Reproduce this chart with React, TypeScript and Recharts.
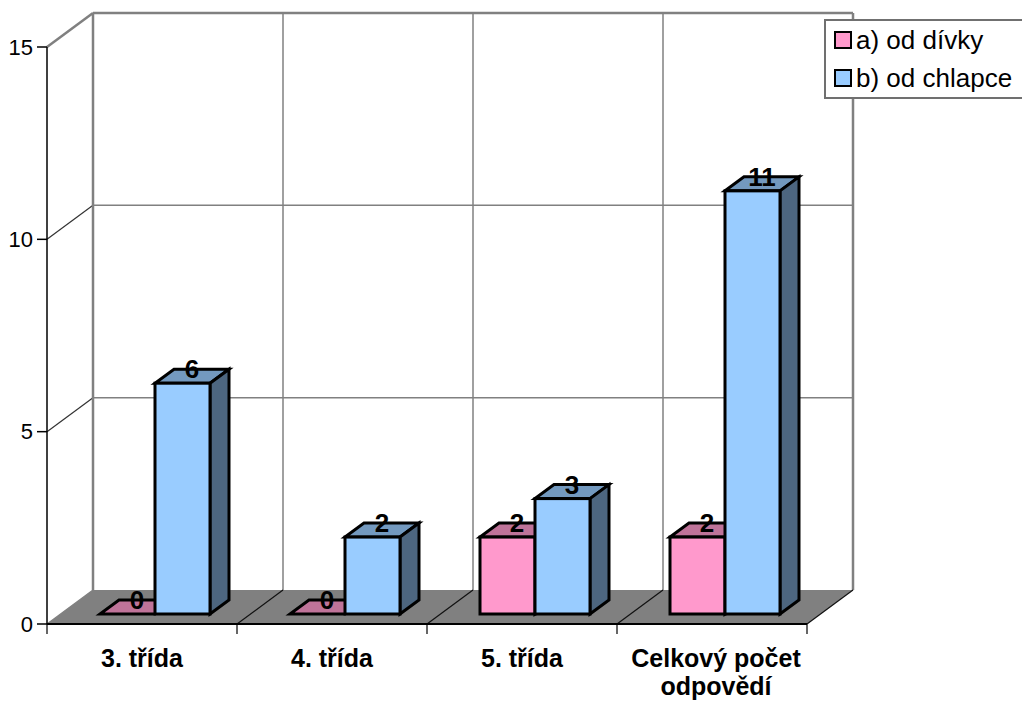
import React from "react";
import { BarChart, Bar, XAxis, YAxis, Legend, ReferenceArea, LabelList } from "recharts";

const categories = ["3. třída", "4. třída", "5. třída", "Celkový počet odpovědí"];
const categoryLines = [["3. třída"], ["4. třída"], ["5. třída"], ["Celkový počet", "odpovědí"]];
const girls = [0, 0, 2, 2];
const boys = [6, 2, 3, 11];
const yTicks = [0, 5, 10, 15];
const seriesNames = ["a) od dívky", "b) od chlapce"];
const data = categories.map((name, i) => ({ name, girls: girls[i], boys: boys[i] }));

const FONT = "'Liberation Sans', Arial, sans-serif";
const WALL_DX = 46;
const WALL_DY = 34;
const BAR_DX = 13;
const BAR_DY = 10;
const FACE_DX = 19;
const FACE_DY = 14;
const GRID = "#808080";

const Room = ({ x, y, width, height }: any) => {
  const bottom = y + height;
  const cw = width / categories.length;
  const edges = Array.from({ length: categories.length + 1 }, (_, i) => x + i * cw);
  const maxV = yTicks[yTicks.length - 1];
  return (
    <g>
      <polygon
        points={`${x},${bottom} ${x + width},${bottom} ${x + width + WALL_DX},${bottom - WALL_DY} ${x + WALL_DX},${bottom - WALL_DY}`}
        fill="#808080"
      />
      {yTicks.map((v) => {
        const ty = bottom - (v / maxV) * height;
        const top = v === maxV;
        return (
          <g key={v}>
            {v !== 0 && (
              <line x1={x + WALL_DX} x2={x + width + WALL_DX} y1={ty - WALL_DY} y2={ty - WALL_DY} stroke={GRID} strokeWidth={top ? 2.5 : 1.5} />
            )}
            <line x1={x} x2={x + WALL_DX} y1={ty} y2={ty - WALL_DY} stroke={top || v === 0 ? GRID : "#333"} strokeWidth={top ? 2.5 : 1.2} />
          </g>
        );
      })}
      {edges.map((ex, i) => (
        <g key={i}>
          <line
            x1={ex + WALL_DX}
            x2={ex + WALL_DX}
            y1={y - WALL_DY}
            y2={bottom - WALL_DY}
            stroke={GRID}
            strokeWidth={i === 0 || i === categories.length ? 2.5 : 1.5}
          />
          {i > 0 && <line x1={ex} x2={ex + WALL_DX} y1={bottom} y2={bottom - WALL_DY} stroke="#111" strokeWidth={1.2} />}
          <line x1={ex} x2={ex} y1={bottom} y2={bottom + 10} stroke="#333" strokeWidth={1.5} />
        </g>
      ))}
    </g>
  );
};

const darken = (hex: string, k: number) => {
  const n = parseInt(hex.slice(1), 16);
  const c = (s: number) => Math.round(((n >> s) & 255) * k);
  return `rgb(${c(16)},${c(8)},${c(0)})`;
};

const Box = ({ x, y, width, height, fill }: any) => {
  const l = x + BAR_DX;
  const r = l + width;
  const t = y - BAR_DY;
  const b = t + height;
  return (
    <g stroke="#000" strokeWidth={3} strokeLinejoin="miter">
      <polygon
        points={`${l},${t} ${r},${t} ${r + FACE_DX},${t - FACE_DY} ${l + FACE_DX},${t - FACE_DY}`}
        fill={darken(fill, 0.75)}
      />
      <polygon
        points={`${r},${t} ${r + FACE_DX},${t - FACE_DY} ${r + FACE_DX},${b - FACE_DY} ${r},${b}`}
        fill={darken(fill, 0.5)}
      />
      {height > 0 && <rect x={l} y={t} width={width} height={height} fill={fill} />}
    </g>
  );
};

const BarValue = ({ x, y, width, value }: any) => (
  <text
    x={x + width / 2 + BAR_DX + FACE_DX / 2}
    y={y - BAR_DY - 5}
    textAnchor="middle"
    fontFamily={FONT}
    fontWeight="bold"
    fontSize={26}
    fill="#000"
  >
    {value}
  </text>
);

const CategoryTick = ({ x, y, index }: any) => {
  const lines = categoryLines[index] || [];
  return (
    <text textAnchor="middle" fontFamily={FONT} fontWeight="bold" fontSize={25} fill="#000">
      {lines.map((line, i) => (
        <tspan key={line} x={x + (lines.length > 1 ? 4 : 0)} y={y + 23 + i * 28}>
          {line}
        </tspan>
      ))}
    </text>
  );
};

const LegendBox = ({ payload }: any) => (
  <div
    style={{
      width: 200,
      height: 76,
      border: "2px solid #707070",
      background: "#fff",
      boxSizing: "content-box",
      fontFamily: FONT,
      fontSize: 26,
      color: "#000",
    }}
  >
    {(payload || []).map((p: any) => (
      <div key={p.value} style={{ display: "flex", alignItems: "center", height: 38, paddingLeft: 8, whiteSpace: "nowrap" }}>
        <span style={{ width: 14, height: 14, border: "2.5px solid #000", background: p.color, marginRight: 4, flex: "none" }} />
        {p.value}
      </div>
    ))}
  </div>
);

export default function App() {
  return (
    <div style={{ position: "absolute", left: 0, top: 0, width: 1022, height: 703, overflow: "hidden" }}>
      <BarChart
        width={1022}
        height={703}
        data={data}
        margin={{ top: 47, right: 215, bottom: 0, left: 0 }}
        barSize={55}
        barGap={0}
      >
        <ReferenceArea x1={categories[0]} x2={categories[3]} y1={0} y2={15} shape={Room} ifOverflow="visible" />
        <XAxis
          dataKey="name"
          interval={0}
          height={79}
          stroke="#000"
          strokeWidth={2}
          tickLine={false}
          tickMargin={14}
          tick={CategoryTick}
        />
        <YAxis
          width={47}
          domain={[0, 15]}
          ticks={yTicks}
          stroke="#000"
          strokeWidth={1.5}
          tickSize={10}
          tickMargin={4}
          tick={{ fontFamily: FONT, fontSize: 22, fill: "#000" }}
        />
        <Legend
          layout="vertical"
          align="center"
          verticalAlign="middle"
          content={LegendBox}
          wrapperStyle={{ left: 824, top: 19, width: 204, margin: 0 }}
        />
        <Bar dataKey="girls" name={seriesNames[0]} fill="#FF99CC" shape={Box} isAnimationActive={false}>
          <LabelList dataKey="girls" content={BarValue} />
        </Bar>
        <Bar dataKey="boys" name={seriesNames[1]} fill="#99CCFF" shape={Box} isAnimationActive={false}>
          <LabelList dataKey="boys" content={BarValue} />
        </Bar>
      </BarChart>
    </div>
  );
}
